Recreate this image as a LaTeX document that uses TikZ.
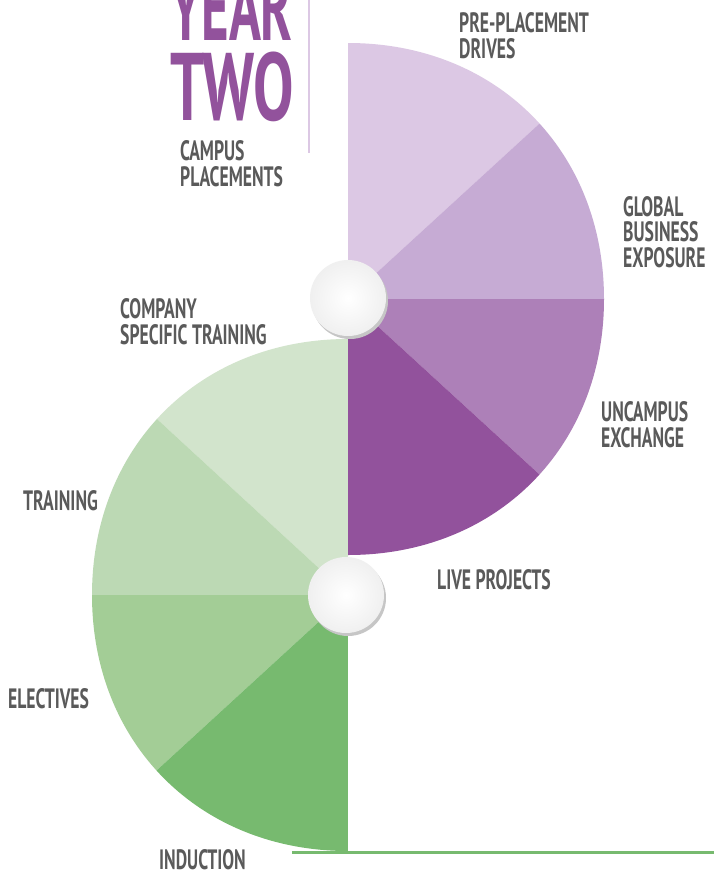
\documentclass[tikz,border=0pt]{standalone}
\usepackage{fontspec}
\newfontfamily\cond[FakeStretch=0.63]{PT Sans Bold}
\newfontfamily\condbig[FakeStretch=0.63]{PT Sans Bold}
\newfontfamily\condbiger[FakeStretch=0.55]{PT Sans Bold}
\definecolor{pA}{HTML}{DCC8E4}
\definecolor{pB}{HTML}{C6ABD4}
\definecolor{pC}{HTML}{AD80B8}
\definecolor{pD}{HTML}{92529C}
\definecolor{gA}{HTML}{D2E4CC}
\definecolor{gB}{HTML}{BCD9B4}
\definecolor{gC}{HTML}{A3CD96}
\definecolor{gD}{HTML}{77BA6F}
\definecolor{txt}{HTML}{5A5A5A}
\tikzset{
  lbl/.style={anchor=base west, inner sep=0pt, align=left, text=txt,
    font=\cond\fontsize{28}{25.5}\selectfont},
  big/.style={anchor=base west, inner sep=0pt, align=left, text=pD,
    font=\condbig\fontsize{96}{80}\selectfont},
  ball/.style={circle, minimum size=76pt, inner sep=0pt, inner color=white, outer color=gray!12},
  ballshadow/.style={circle, minimum size=76pt, inner sep=0pt, fill=gray!45}
}
\begin{document}
\begin{tikzpicture}[x=1pt,y=-1pt]
\useasboundingbox (0,0) rectangle (714,873);
\fill[white] (0,0) rectangle (714,873);
% purple half disc
\coordinate (pc) at (348,299);
\begin{scope}
\clip (348,43) .. controls (496.5,43) and (604,150.5) .. (604,299)
  .. controls (604,447.5) and (496.5,555) .. (348,555) -- cycle;
\fill[pA] (pc) -- (348,-100) -- (730,-51) -- cycle;
\fill[pB] (pc) -- (730,-51) -- (730,299) -- cycle;
\fill[pC] (pc) -- (730,299) -- (730,649) -- cycle;
\fill[pD] (pc) -- (730,649) -- (348,700) -- cycle;
\end{scope}
% green half disc
\coordinate (gc) at (348,595);
\begin{scope}
\clip (348,339) .. controls (199.5,339) and (92,446.5) .. (92,595)
  .. controls (92,743.5) and (199.5,851) .. (348,851) -- cycle;
\fill[gA] (gc) -- (348,200) -- (-34,243) -- cycle;
\fill[gB] (gc) -- (-34,243) -- (-34,595) -- cycle;
\fill[gC] (gc) -- (-34,595) -- (-36,947) -- cycle;
\fill[gD] (gc) -- (-36,947) -- (348,1000) -- cycle;
\end{scope}
% base line and title rule
\coordinate (l1) at (292,852);
\coordinate (l2) at (714,852);
\draw[gD, line width=3pt] (l1) -- (l2);
\coordinate (r1) at (309,0);
\coordinate (r2) at (309,153);
\draw[pA, line width=2.5pt] (r1) -- (r2);
% balls
\node[ballshadow] at (350,301) {};
\node[ball] (b1) at (348,298) {};
\node[ballshadow] at (348,598) {};
\node[ball] (b2) at (346,595) {};
% titles
\node[big] (year) at (170,120) {{\condbiger YEAR}\\TWO};
\node[lbl] (campus) at (180,186) {CAMPUS\\PLACEMENTS};
% labels
\node[lbl] (ppd) at (459,58) {PRE-PLACEMENT\\DRIVES};
\node[lbl] (gbe) at (623,267) {GLOBAL\\BUSINESS\\EXPOSURE};
\node[lbl] (unc) at (601,447) {UNCAMPUS\\EXCHANGE};
\node[lbl] (live) at (437,589) {LIVE PROJECTS};
\node[lbl] (cst) at (120,344) {COMPANY\\SPECIFIC TRAINING};
\node[lbl] (trn) at (23,510) {TRAINING};
\node[lbl] (ele) at (8,708) {ELECTIVES};
\node[lbl] (ind) at (159,869) {INDUCTION};
\end{tikzpicture}
\end{document}
